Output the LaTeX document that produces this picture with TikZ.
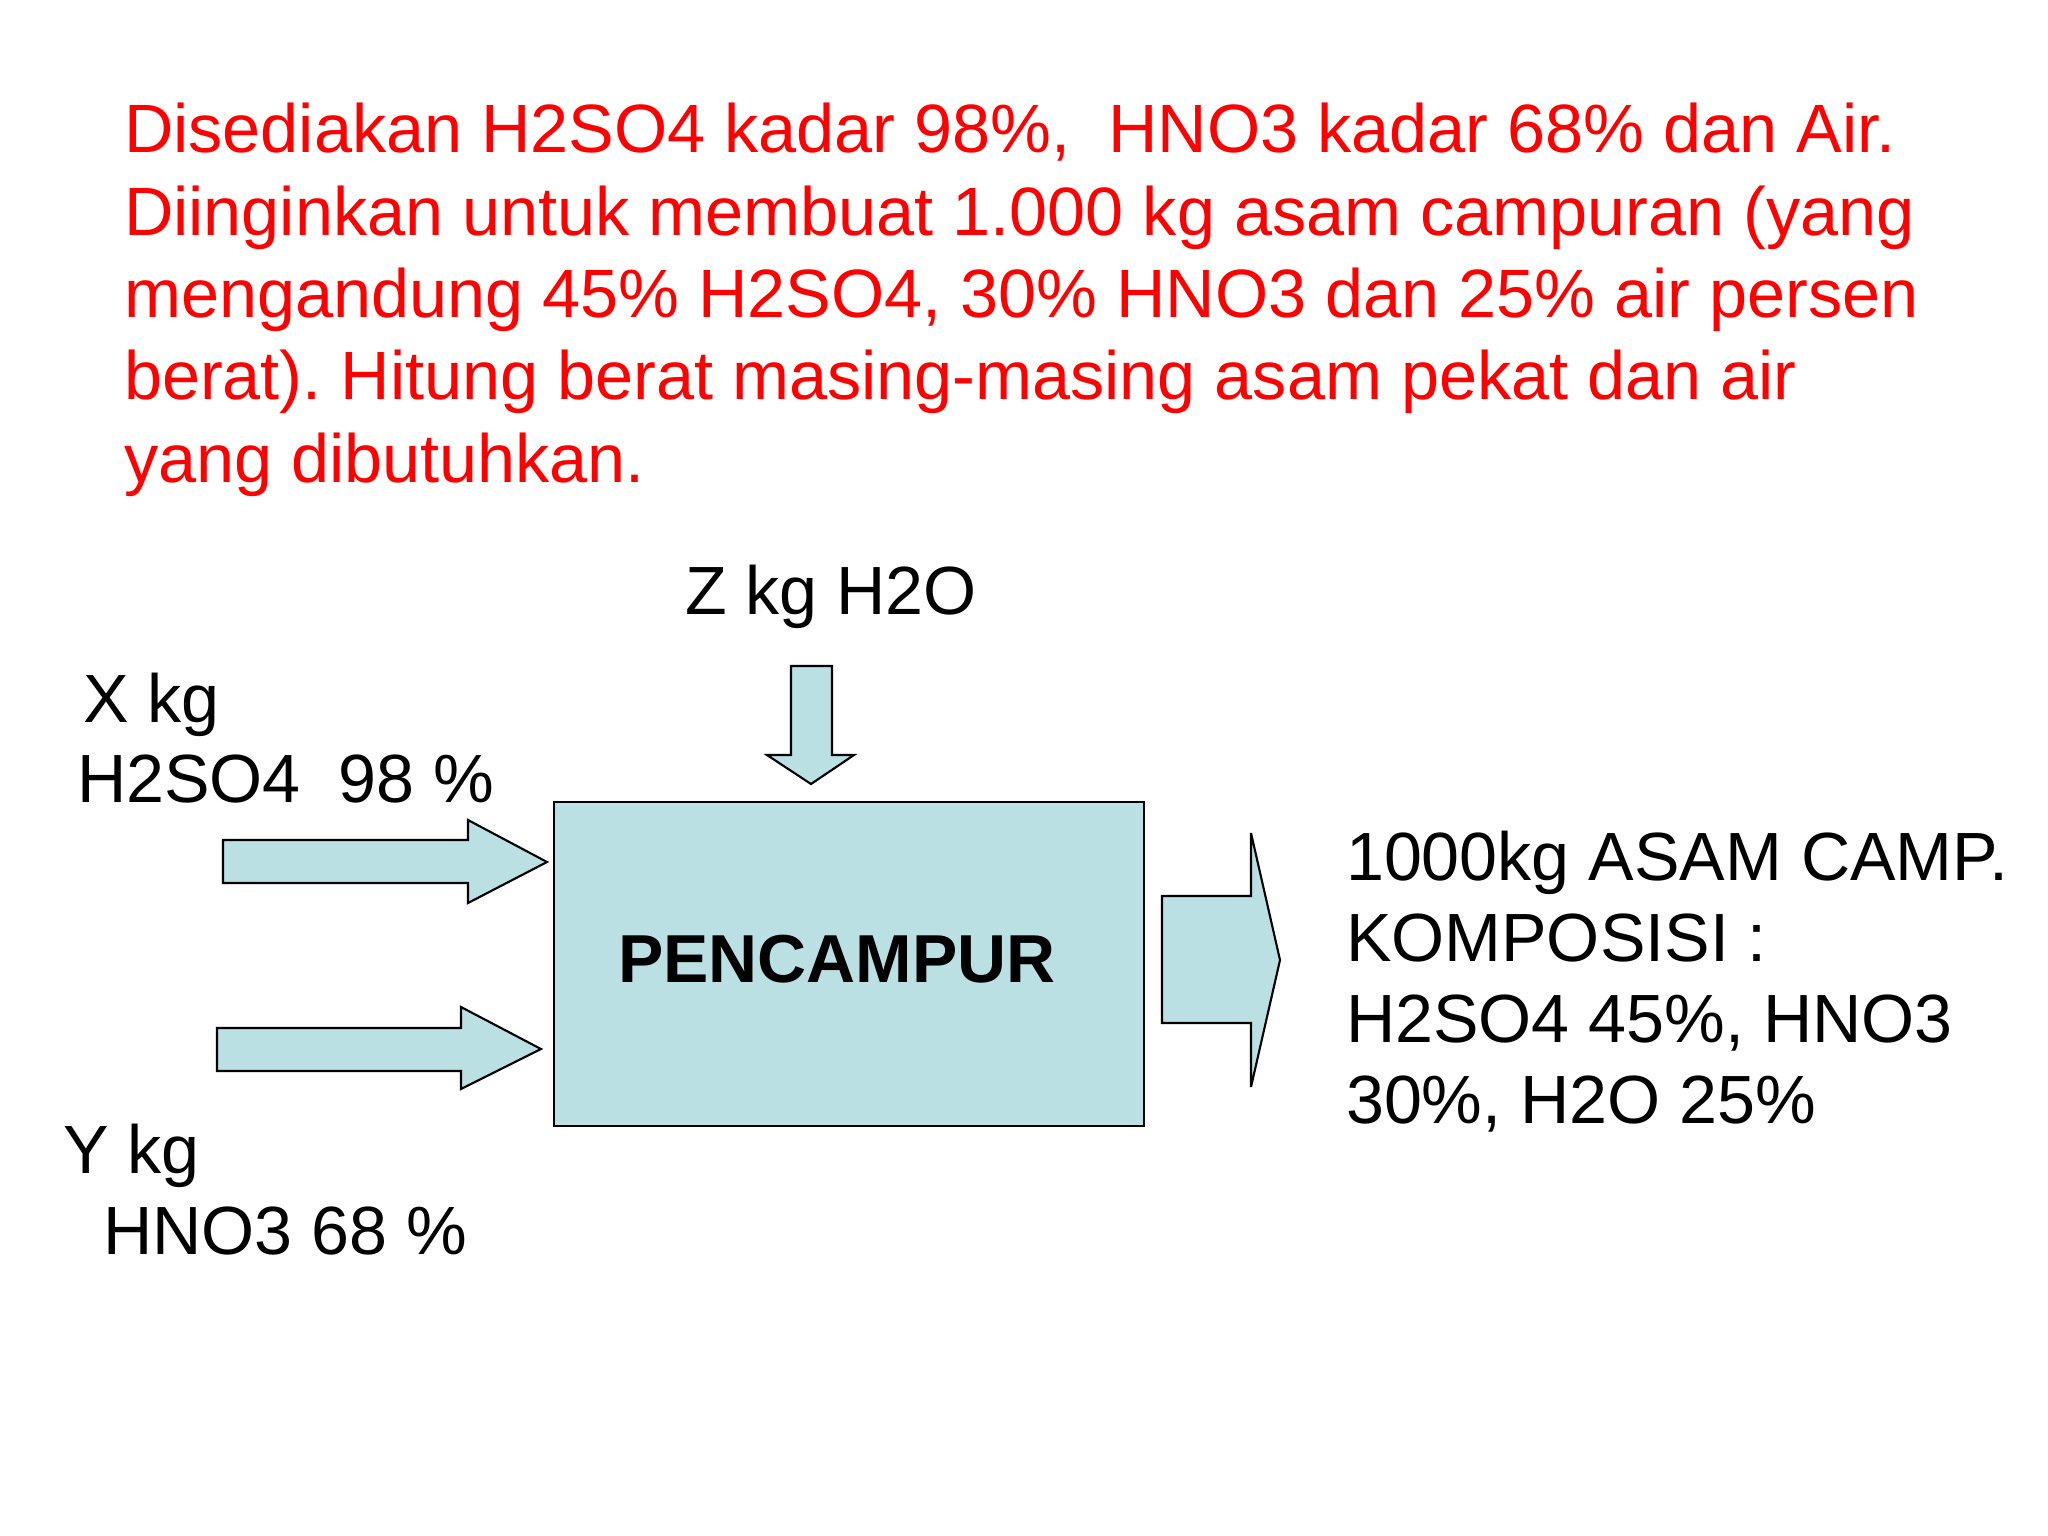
\documentclass[tikz,border=0pt]{standalone}
\usepackage{fontspec}
\setmainfont{Liberation Sans}
\usetikzlibrary{positioning}
\definecolor{boxfill}{RGB}{187,224,227}
\definecolor{soalred}{RGB}{255,0,0}
\frenchspacing

\begin{document}
\begin{tikzpicture}[x=0.01cm, y=-0.01cm, line width=0.6pt, font=\fontsize{19.4}{23}\selectfont,
    label/.style={anchor=base west, inner sep=0pt, align=left},
    blok/.style={draw, fill=boxfill, line join=miter, miter limit=4}]
        \useasboundingbox (0,0) rectangle (2048,1536);
        % soal
        \node[label, text=soalred, font=\fontsize{19.45}{23.4}\selectfont] (soal) at (123,482)
            {Disediakan H2SO4 kadar 98\%,\ \ HNO3 kadar 68\% dan Air.\\
             Diinginkan untuk membuat 1.000 kg asam campuran (yang\\
             mengandung 45\% H2SO4, 30\% HNO3 dan 25\% air persen\\
             berat). Hitung berat masing-masing asam pekat dan air\\
             yang dibutuhkan.};

        \node[blok, minimum width=5.89cm, minimum height=3.24cm] (mixer) at (849,964) {};
        \node[inner sep=0pt, font=\fontsize{19.3}{23}\selectfont\bfseries] (judul) at (837,959) {PENCAMPUR};

        \node[label] (air) at (684,614) {Z kg H2O};
        \node[label] (xkg) at (82,722) {X kg};
        \node[label] (asam1) at (76,802) {H2SO4\ \ 98 \%};
        \node[label] (ykg) at (62,1173) {Y kg};
        \node[label] (asam2) at (102,1254) {HNO3 68 \%};
        \node[label] (produk) at (1345,1123) {1000kg ASAM CAMP.\\ KOMPOSISI :\\ H2SO4 45\%, HNO3\\ 30\%, H2O 25\%};

        % panah masuk dan keluar
        \draw[blok] (223,840) -- (468,840) -- (468,820) -- (547,862) -- (468,903) -- (468,883) -- (223,883) -- cycle;
        \draw[blok] (217,1028) -- (461,1028) -- (461,1007) -- (541,1049) -- (461,1089) -- (461,1071) -- (217,1071) -- cycle;
        \draw[blok] (791,666) -- (832,666) -- (832,755) -- (854,755) -- (811,784) -- (767,755) -- (791,755) -- cycle;
        \draw[blok] (1162,896) -- (1251,896) -- (1251,833) -- (1280,960) -- (1251,1087) -- (1251,1023) -- (1162,1023) -- cycle;
    \end{tikzpicture}
\end{document}
